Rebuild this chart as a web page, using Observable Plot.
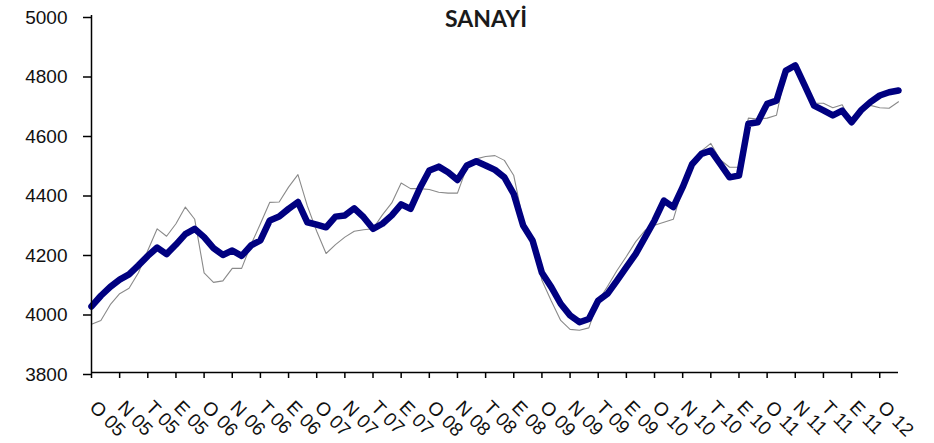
<!DOCTYPE html>
<html>
<head>
<meta charset="utf-8">
<script src="https://cdn.jsdelivr.net/npm/d3@7"></script>
<script src="https://cdn.jsdelivr.net/npm/@observablehq/plot@0.6"></script>
<style>
  html, body { margin: 0; padding: 0; background: #fff; }
  #chart { width: 934px; height: 443px; }
</style>
</head>
<body>
<div id="chart"></div>
<script>
// Categories: monthly, Jan 2005 .. Mar 2012
const years = [2005, 2006, 2007, 2008, 2009, 2010, 2011, 2012];
const monthNums = ["01","02","03","04","05","06","07","08","09","10","11","12"];
const months = years.flatMap(y => monthNums.map(m => `${y}-${m}`)).slice(0, 87);

// Thick navy series
const sanayiThick = [
  4022, 4058, 4088, 4112, 4130, 4160, 4192, 4220, 4198, 4230, 4265, 4283,
  4255, 4218, 4195, 4210, 4192, 4227, 4244, 4311, 4324, 4350, 4373, 4305,
  4297, 4288, 4324, 4328, 4352, 4322, 4283, 4300, 4328, 4365, 4350, 4420,
  4479, 4492, 4473, 4447, 4496, 4510, 4496, 4481, 4456, 4400, 4294, 4244,
  4135, 4087, 4031, 3992, 3969, 3980, 4042, 4065, 4109, 4154, 4199, 4255,
  4311, 4378, 4356, 4423, 4500, 4535, 4546, 4501, 4456, 4462, 4636, 4641,
  4703, 4714, 4815, 4832, 4765, 4697, 4681, 4664, 4680, 4641, 4681, 4709,
  4731, 4742, 4748
];

// Thin grey series
const sanayiThin = [
  3962, 3975, 4028, 4065, 4083, 4135, 4210, 4283, 4258, 4300, 4356, 4315,
  4135, 4103, 4108, 4150, 4150, 4230, 4300, 4372, 4373, 4423, 4465, 4360,
  4275, 4200, 4230, 4255, 4275, 4280, 4283, 4330, 4370, 4437, 4418, 4418,
  4415, 4406, 4403, 4403, 4490, 4518, 4526, 4529, 4513, 4462, 4310, 4240,
  4110, 4040, 3975, 3945, 3942, 3950, 4040, 4090, 4143, 4190, 4240, 4278,
  4295, 4305, 4315, 4420, 4500, 4545, 4570, 4515, 4490, 4490, 4655, 4652,
  4655, 4665, 4815, 4830, 4770, 4705, 4705, 4690, 4700, 4640, 4672, 4698,
  4690, 4688, 4710
];

// Tick labels (every third month)
const tickLabels = [
  "O 05","N 05","T 05","E 05",
  "O 06","N 06","T 06","E 06",
  "O 07","N 07","T 07","E 07",
  "O 08","N 08","T 08","E 08",
  "O 09","N 09","T 09","E 09",
  "O 10","N 10","T 10","E 10",
  "O 11","N 11","T 11","E 11",
  "O 12"
];
const yTicks = [3800, 4000, 4200, 4400, 4600, 4800, 5000];
const title = "SANAYİ";

const tickMonths = months.filter((d, i) => i % 3 === 0);
const rows = months.map((m, i) => ({month: m, thick: sanayiThick[i], thin: sanayiThin[i]}));

const chart = Plot.plot({
  width: 934,
  height: 443,
  marginTop: 15,
  marginBottom: 71,
  marginLeft: 91,
  marginRight: 36,
  style: {fontFamily: "'Liberation Sans', Arial, sans-serif", background: "#fff", overflow: "visible"},
  x: {type: "point", domain: months, padding: 0, axis: null},
  y: {domain: [3800, 5000], axis: null},
  marks: [
    Plot.line(rows, {x: "month", y: "thin", stroke: "#8a8a8a", strokeWidth: 1.1}),
    Plot.line(rows, {x: "month", y: "thick", stroke: "#000080", strokeWidth: 6.5, strokeLinejoin: "round", strokeLinecap: "round"}),
    Plot.ruleY([3800], {stroke: "#000", strokeWidth: 1.5}),
    Plot.ruleX([months[0]], {stroke: "#000", strokeWidth: 1.5}),
    Plot.axisY(yTicks, {
      tickSize: 8, tickPadding: 16, fontSize: 19, label: null,
      tickFormat: d => String(d), stroke: "#000", fill: "#111", strokeWidth: 1.5, dy: 2
    }),
    Plot.axisX(tickMonths, {tickSize: 6, tickFormat: () => "", label: null, stroke: "#000", strokeWidth: 1.5}),
    Plot.text(tickMonths, {
      x: d => d, text: (d, i) => tickLabels[i], frameAnchor: "bottom",
      rotate: 45, textAnchor: "start", lineAnchor: "bottom",
      dx: -3, dy: 36, fontSize: 19, fill: "#111"
    }),
    Plot.text([title], {
      text: d => d, frameAnchor: "top", dx: -9, dy: 11, lineAnchor: "bottom",
      fontFamily: "Lato", fontWeight: "bold", fontSize: 23, fill: "#1a1a1a"
    })
  ]
});
document.getElementById("chart").appendChild(chart);
</script>
</body>
</html>
